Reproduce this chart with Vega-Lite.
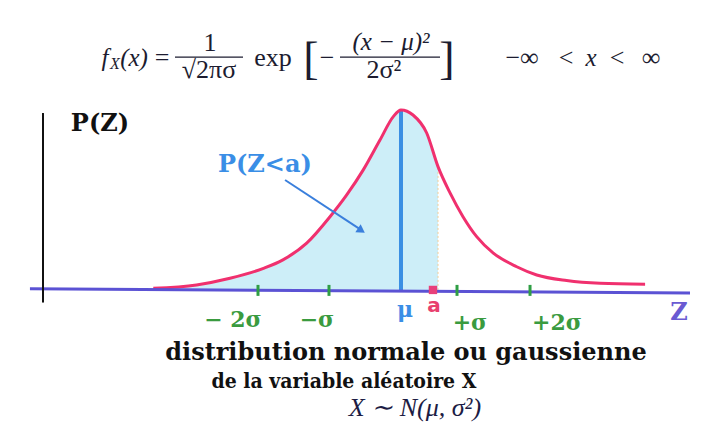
{
  "$schema": "https://vega.github.io/schema/vega-lite/v6.json",
  "width": 705,
  "height": 435,
  "padding": 0,
  "autosize": {"type": "fit", "contains": "padding"},
  "background": "white",
  "config": {"view": {"stroke": null}},
  "datasets": {
    "curve": [
      {"x": -3.44, "y": 0.009},
      {"x": -2.84, "y": 0.028},
      {"x": -2.375, "y": 0.065},
      {"x": -1.91, "y": 0.12},
      {"x": -1.64, "y": 0.167},
      {"x": -1.31, "y": 0.26},
      {"x": -0.986, "y": 0.407},
      {"x": -0.754, "y": 0.528},
      {"x": -0.524, "y": 0.667},
      {"x": -0.292, "y": 0.833},
      {"x": -0.107, "y": 0.963},
      {"x": 0.0, "y": 1.0},
      {"x": 0.167, "y": 0.972},
      {"x": 0.357, "y": 0.872},
      {"x": 0.514, "y": 0.685},
      {"x": 0.681, "y": 0.539},
      {"x": 0.861, "y": 0.407},
      {"x": 1.051, "y": 0.296},
      {"x": 1.278, "y": 0.206},
      {"x": 1.607, "y": 0.129},
      {"x": 1.885, "y": 0.083},
      {"x": 2.3, "y": 0.052},
      {"x": 2.764, "y": 0.037},
      {"x": 3.39, "y": 0.032}
    ],
    "zAxis": [{"x": -5.153, "y": 0.006, "x2": 4.014, "y2": -0.017}],
    "pAxis": [{"x": -4.972, "y": 0.983, "x2": -4.972, "y2": -0.07}],
    "muLine": [{"x": 0.0, "y": 0.0, "x2": 0.0, "y2": 1.0}],
    "edge": [{"x": 0.514, "y": 0.0, "x2": 0.514, "y2": 0.685}],
    "ticks": [
      {"x": -1.986, "y": 0.028, "x2": -1.986, "y2": -0.033},
      {"x": -1.0, "y": 0.028, "x2": -1.0, "y2": -0.033},
      {"x": 0.778, "y": 0.028, "x2": 0.778, "y2": -0.033},
      {"x": 1.792, "y": 0.028, "x2": 1.792, "y2": -0.033}
    ],
    "aPoint": [{"x": 0.444, "y": 0.0}],
    "arrow": [{"x": -1.61, "y": 0.611, "x2": -0.56, "y2": 0.335}],
    "arrowHead": [{"x": -0.55, "y": 0.33}],
    "pz": [{"x": -4.18, "y": 0.922, "text": "P(Z)"}],
    "pza": [{"x": -1.89, "y": 0.694, "text": "P(Z<a)"}],
    "sigmas": [
      {"x": -2.333, "y": -0.167, "text": "− 2σ"},
      {"x": -1.167, "y": -0.167, "text": "−σ"},
      {"x": 0.958, "y": -0.183, "text": "+σ"},
      {"x": 2.167, "y": -0.183, "text": "+2σ"}
    ],
    "mu": [{"x": 0.056, "y": -0.111, "text": "μ"}],
    "aLabel": [{"x": 0.458, "y": -0.089, "text": "a"}],
    "zLabel": [{"x": 3.861, "y": -0.128, "text": "Z"}],
    "captionTop": [{"x": 0.069, "y": -0.35, "text": "distribution normale ou gaussienne"}],
    "captionBottom": [{"x": -0.792, "y": -0.511, "text": "de la variable aléatoire X"}],
    "law": [{"x": 0.194, "y": -0.656, "text": "X ∼ N(μ, σ²)"}],
    "fItalic": [
      {"x": -4.111, "y": 1.289, "text": "f"},
      {"x": -3.708, "y": 1.289, "text": "(x)"},
      {"x": -0.139, "y": 1.378, "text": "(x − μ)²"},
      {"x": 2.639, "y": 1.289, "text": "x"}
    ],
    "fSub": [{"x": -3.972, "y": 1.256, "text": "X"}],
    "fPlain": [
      {"x": -3.319, "y": 1.289, "text": "="},
      {"x": -2.653, "y": 1.372, "text": "1"},
      {"x": -2.667, "y": 1.222, "text": "√2πσ"},
      {"x": -1.778, "y": 1.289, "text": "exp"},
      {"x": -1.028, "y": 1.289, "text": "−"},
      {"x": -0.236, "y": 1.222, "text": "2σ²"},
      {"x": 1.681, "y": 1.289, "text": "−∞"},
      {"x": 2.292, "y": 1.289, "text": "<"},
      {"x": 3.0, "y": 1.289, "text": "<"},
      {"x": 3.472, "y": 1.289, "text": "∞"}
    ],
    "brackets": [
      {"x": -1.25, "y": 1.278, "text": "["},
      {"x": 0.639, "y": 1.278, "text": "]"}
    ],
    "fracLines": [
      {"x": -3.139, "y": 1.294, "x2": -2.194},
      {"x": -0.847, "y": 1.294, "x2": 0.542}
    ]
  },
  "encoding": {
    "x": {"field": "x", "type": "quantitative", "axis": null,
          "scale": {"domain": [-5.569, 4.222], "nice": false, "zero": false}},
    "y": {"field": "y", "type": "quantitative", "axis": null,
          "scale": {"domain": [-0.806, 1.611], "nice": false, "zero": false}}
  },
  "layer": [
    {
      "data": {"name": "curve"},
      "transform": [{"filter": "datum.x <= 0.52"}],
      "mark": {"type": "area", "interpolate": "monotone", "color": "#cdeef8", "opacity": 1}
    },
    {
      "data": {"name": "edge"},
      "mark": {"type": "rule", "color": "#f2cf9a", "strokeWidth": 1, "strokeDash": [2, 2]},
      "encoding": {"y2": {"field": "y2"}, "x2": {"field": "x2"}}
    },
    {
      "data": {"name": "muLine"},
      "mark": {"type": "rule", "color": "#3a8fe3", "strokeWidth": 4},
      "encoding": {"y2": {"field": "y2"}, "x2": {"field": "x2"}}
    },
    {
      "data": {"name": "curve"},
      "mark": {"type": "line", "interpolate": "monotone", "color": "#f0306e", "strokeWidth": 3}
    },
    {
      "data": {"name": "zAxis"},
      "mark": {"type": "rule", "color": "#5b52d4", "strokeWidth": 3},
      "encoding": {"y2": {"field": "y2"}, "x2": {"field": "x2"}}
    },
    {
      "data": {"name": "pAxis"},
      "mark": {"type": "rule", "color": "#111111", "strokeWidth": 2},
      "encoding": {"y2": {"field": "y2"}, "x2": {"field": "x2"}}
    },
    {
      "data": {"name": "ticks"},
      "mark": {"type": "rule", "color": "#2f9e44", "strokeWidth": 3},
      "encoding": {"y2": {"field": "y2"}, "x2": {"field": "x2"}}
    },
    {
      "data": {"name": "aPoint"},
      "mark": {"type": "point", "shape": "square", "filled": true, "color": "#e8407a", "size": 70, "opacity": 1}
    },
    {
      "data": {"name": "arrow"},
      "mark": {"type": "rule", "color": "#3a7fdc", "strokeWidth": 2},
      "encoding": {"y2": {"field": "y2"}, "x2": {"field": "x2"}}
    },
    {
      "data": {"name": "arrowHead"},
      "mark": {"type": "point", "shape": "triangle-right", "filled": true, "color": "#3a7fdc", "size": 90, "angle": 34, "opacity": 1}
    },
    {
      "data": {"name": "pz"},
      "mark": {"type": "text", "font": "DejaVu Serif", "fontWeight": "bold", "fontSize": 24, "color": "#111111", "baseline": "middle"},
      "encoding": {"text": {"field": "text"}}
    },
    {
      "data": {"name": "pza"},
      "mark": {"type": "text", "font": "DejaVu Serif", "fontWeight": "bold", "fontSize": 24, "color": "#3a8ee6", "baseline": "middle"},
      "encoding": {"text": {"field": "text"}}
    },
    {
      "data": {"name": "sigmas"},
      "mark": {"type": "text", "font": "DejaVu Serif", "fontWeight": "bold", "fontSize": 22, "color": "#3a9b3f", "baseline": "middle"},
      "encoding": {"text": {"field": "text"}}
    },
    {
      "data": {"name": "mu"},
      "mark": {"type": "text", "font": "DejaVu Serif", "fontWeight": "bold", "fontSize": 22, "color": "#3a8ee6", "baseline": "middle"},
      "encoding": {"text": {"field": "text"}}
    },
    {
      "data": {"name": "aLabel"},
      "mark": {"type": "text", "font": "DejaVu Sans", "fontWeight": "bold", "fontSize": 20, "color": "#e8406e", "baseline": "middle"},
      "encoding": {"text": {"field": "text"}}
    },
    {
      "data": {"name": "zLabel"},
      "mark": {"type": "text", "font": "DejaVu Serif", "fontWeight": "bold", "fontSize": 24, "color": "#6a5ad2", "baseline": "middle"},
      "encoding": {"text": {"field": "text"}}
    },
    {
      "data": {"name": "captionTop"},
      "mark": {"type": "text", "font": "DejaVu Serif", "fontWeight": "bold", "fontSize": 24, "color": "#111111", "baseline": "middle"},
      "encoding": {"text": {"field": "text"}}
    },
    {
      "data": {"name": "captionBottom"},
      "mark": {"type": "text", "font": "DejaVu Serif Condensed", "fontWeight": "bold", "fontSize": 21, "color": "#111111", "baseline": "middle"},
      "encoding": {"text": {"field": "text"}}
    },
    {
      "data": {"name": "law"},
      "mark": {"type": "text", "font": "Liberation Serif", "fontStyle": "italic", "fontSize": 26, "color": "#1c1c44", "baseline": "middle"},
      "encoding": {"text": {"field": "text"}}
    },
    {
      "data": {"name": "fItalic"},
      "mark": {"type": "text", "font": "Liberation Serif", "fontStyle": "italic", "fontSize": 25, "color": "#1c1c30", "baseline": "middle"},
      "encoding": {"text": {"field": "text"}}
    },
    {
      "data": {"name": "fSub"},
      "mark": {"type": "text", "font": "Liberation Serif", "fontStyle": "italic", "fontSize": 16, "color": "#1c1c30", "baseline": "middle"},
      "encoding": {"text": {"field": "text"}}
    },
    {
      "data": {"name": "fPlain"},
      "mark": {"type": "text", "font": "Liberation Serif", "fontSize": 26, "color": "#1c1c30", "baseline": "middle"},
      "encoding": {"text": {"field": "text"}}
    },
    {
      "data": {"name": "brackets"},
      "mark": {"type": "text", "font": "Liberation Serif", "fontSize": 46, "color": "#1c1c30", "baseline": "middle"},
      "encoding": {"text": {"field": "text"}}
    },
    {
      "data": {"name": "fracLines"},
      "mark": {"type": "rule", "color": "#1c1c30", "strokeWidth": 1.2},
      "encoding": {"x2": {"field": "x2"}}
    }
  ]
}
